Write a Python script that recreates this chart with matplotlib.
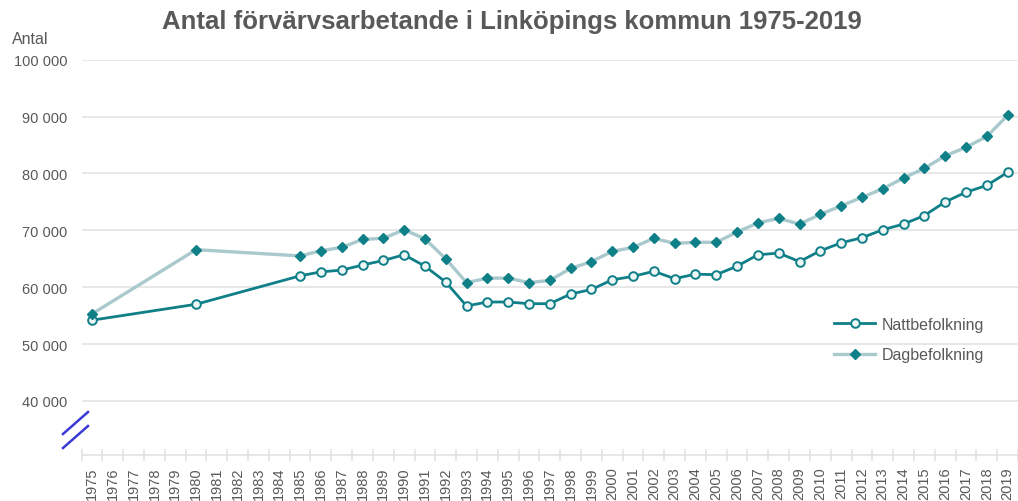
import numpy as np
import matplotlib.pyplot as plt
from matplotlib.lines import Line2D

plt.rcParams['font.family'] = ['Liberation Sans', 'DejaVu Sans']

# category axis: every year 1975-2019
years = list(range(1975, 2020))

# years with observations (lines connect across the gaps)
data_years = [1975, 1980] + list(range(1985, 2020))

natt = [54200, 57000,
        62000, 62700, 63000, 63900, 64700, 65700, 63700, 60900, 56700, 57400,
        57400, 57100, 57100, 58800, 59600, 61300, 61900, 62800, 61500, 62300,
        62200, 63700, 65700, 66000, 64500, 66400, 67800, 68700, 70100, 71100,
        72600, 75000, 76700, 77900, 80200]

dag = [55300, 66600,
       65500, 66400, 67000, 68400, 68600, 70100, 68500, 65000, 60800, 61600,
       61600, 60800, 61200, 63300, 64500, 66300, 67000, 68600, 67700, 67900,
       67900, 69700, 71300, 72100, 71100, 72800, 74300, 75800, 77300, 79200,
       80900, 83100, 84600, 86500, 90200]

y_ticks = [40000, 50000, 60000, 70000, 80000, 90000, 100000]

title = 'Antal förvärvsarbetande i Linköpings kommun 1975-2019'
labels = ['Nattbefolkning', 'Dagbefolkning']

text_col = '#595959'
grid_col = '#e0e0e0'
teal = '#0f7f88'
light = '#a9c9cd'

fig = plt.figure(figsize=(10.18, 5.02), dpi=100)
W, H = 1018, 502
left, right, top, bottom = 81.6, 1018, 60.7, 456
ax = fig.add_axes([left / W, 1 - bottom / H, (right - left) / W, (bottom - top) / H])

x = np.array([years.index(y) for y in data_years])

ax.plot(x, natt, color=teal, lw=2.0, marker='o', ms=6.2, mfc='#eef6f6',
        mec=teal, mew=1.4, label=labels[0], zorder=3)
ax.plot(x, dag, color=light, lw=2.4, marker='D', ms=5.2, mfc=teal,
        mec=teal, label=labels[1], zorder=4)

ax.set_xlim(-0.5, len(years) - 0.5)
ax.set_ylim(30500, 100000)

ax.set_yticks(y_ticks)
ax.set_yticklabels([f'{v:,}'.replace(',', ' ') for v in y_ticks])
ax.yaxis.grid(True, color=grid_col, lw=1.1)
ax.set_axisbelow(True)
ax.tick_params(axis='y', length=0, pad=10.5, labelsize=10.5, labelcolor=text_col)

ax.set_xticks(range(len(years)))
ax.set_xticklabels([str(y) for y in years], rotation=90, va='top')
ax.set_xticks(np.arange(-0.5, len(years), 1), minor=True)
ax.tick_params(axis='x', which='major', length=0, pad=8, labelsize=10.5,
               labelcolor=text_col)
ax.tick_params(axis='x', which='minor', length=8, direction='inout',
               color=grid_col, width=1.1)

for s in ['top', 'right', 'left']:
    ax.spines[s].set_visible(False)
ax.spines['bottom'].set_color(grid_col)
ax.spines['bottom'].set_linewidth(1.1)

fig.text(512 / W, 1 - 22 / H, title, ha='center', va='center',
         fontsize=18.5, fontweight='bold', color=text_col)
fig.text(12 / W, 1 - 40 / H, 'Antal', ha='left', va='center',
         fontsize=11.5, color=text_col)

# axis break marks
for y0, y1 in [(435, 413), (449, 427)]:
    fig.add_artist(Line2D([63 / W, 88 / W], [1 - y0 / H, 1 - y1 / H],
                          color='#3a3ad6', lw=1.8))

ax.legend(loc='center left', bbox_to_anchor=(0.788, 0.292), frameon=False,
          fontsize=11.5, handlelength=2.6, labelspacing=0.95,
          handletextpad=0.4, labelcolor=text_col)

fig.savefig('out.png', dpi=100)
